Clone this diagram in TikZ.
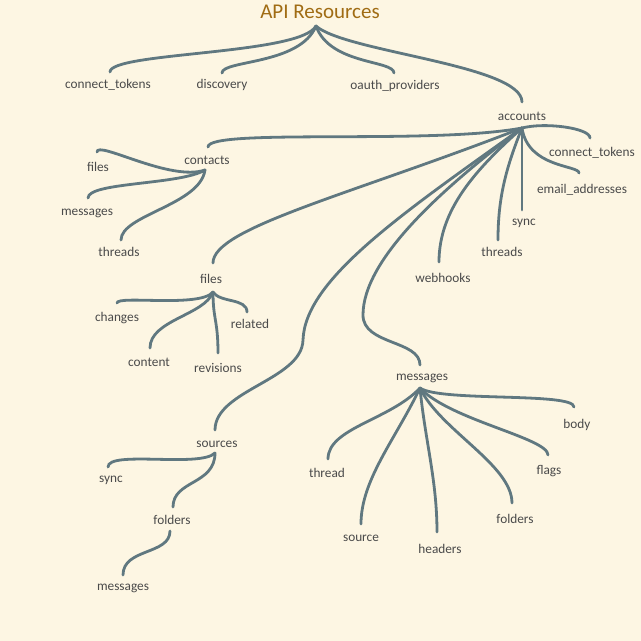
\documentclass[tikz,border=0pt]{standalone}
\usepackage{fontspec}
\setmainfont{Carlito}
\definecolor{bg}{HTML}{FDF6E3}
\definecolor{linkc}{HTML}{607880}
\definecolor{labelc}{HTML}{4A4A4A}
\definecolor{titlec}{HTML}{A06C14}
\tikzset{
  lbl/.style={font=\fontsize{13.3}{15}\selectfont, text=labelc, inner sep=0pt, text height=1.5ex, text depth=.25ex, yshift=-1.8pt},
  ttl/.style={font=\fontsize{21}{24}\selectfont, text=titlec, inner sep=0pt},
  link/.style={draw=linkc, line width=2.8pt, line cap=round}
}
\begin{document}
\begin{tikzpicture}[x=1pt,y=-1pt]
\fill[bg] (0,0) rectangle (641,641);
\useasboundingbox (0,0) rectangle (641,641);

% labels
\node[ttl] (root) at (320,12) {API Resources};
\node[lbl] (ct1) at (108,84) {connect\_tokens};
\node[lbl] (disc) at (222,84) {discovery};
\node[lbl] (oauth) at (395,85) {oauth\_providers};
\node[lbl] (acc) at (522,116) {accounts};
\node[lbl] (contacts) at (207,160) {contacts};
\node[lbl] (ct2) at (592,152) {connect\_tokens};
\node[lbl] (email) at (582,189) {email\_addresses};
\node[lbl] (sync1) at (524,221) {sync};
\node[lbl] (threads1) at (502,252) {threads};
\node[lbl] (webhooks) at (443,278) {webhooks};
\node[lbl] (cfiles) at (98,167) {files};
\node[lbl] (cmessages) at (87,211) {messages};
\node[lbl] (cthreads) at (119,252) {threads};
\node[lbl] (files) at (211,279) {files};
\node[lbl] (changes) at (117,317) {changes};
\node[lbl] (content) at (149,362) {content};
\node[lbl] (revisions) at (218,368) {revisions};
\node[lbl] (related) at (250,324) {related};
\node[lbl] (sources) at (217,443) {sources};
\node[lbl] (ssync) at (111,478) {sync};
\node[lbl] (sfolders) at (172,520) {folders};
\node[lbl] (fmessages) at (123,586) {messages};
\node[lbl] (messages) at (422,376) {messages};
\node[lbl] (thread) at (327,473) {thread};
\node[lbl] (source) at (361,537) {source};
\node[lbl] (headers) at (440,549) {headers};
\node[lbl] (mfolders) at (515,519) {folders};
\node[lbl] (flags) at (549,470) {flags};
\node[lbl] (body) at (577,424) {body};

% link anchor points
\coordinate (rootO) at (316,26);
\coordinate (ct1I) at (110,72);
\coordinate (discI) at (222,73);
\coordinate (oauthI) at (394,73);
\coordinate (accI) at (522,102);
\coordinate (accO) at (522,128);
\coordinate (contactsI) at (208,147);
\coordinate (contactsO) at (205,170);
\coordinate (filesI) at (213,263);
\coordinate (filesO) at (213,292);
\coordinate (sourcesI) at (215,430);
\coordinate (sourcesO) at (215,453);
\coordinate (sourcesV) at (303,340);
\coordinate (messagesI) at (420,365);
\coordinate (messagesO) at (420,388);
\coordinate (messagesV) at (363,315);
\coordinate (webhooksI) at (439,262);
\coordinate (threads1I) at (498,240);
\coordinate (sync1I) at (522,210);
\coordinate (emailI) at (579,173);
\coordinate (ct2I) at (590,138);
\coordinate (cfilesI) at (97,152);
\coordinate (cmessagesI) at (88,198);
\coordinate (cthreadsI) at (121,240);
\coordinate (changesI) at (117,303);
\coordinate (contentI) at (150,348);
\coordinate (revisionsI) at (218,353);
\coordinate (relatedI) at (247,312);
\coordinate (ssyncI) at (108,467);
\coordinate (sfoldersI) at (173,507);
\coordinate (sfoldersO) at (170,531);
\coordinate (fmessagesI) at (123,575);
\coordinate (threadI) at (328,459);
\coordinate (sourceI) at (361,524);
\coordinate (headersI) at (437,532);
\coordinate (mfoldersI) at (512,503);
\coordinate (flagsI) at (548,455);
\coordinate (bodyI) at (574,407);

% root links
\draw[link] (rootO) .. controls +(-16,29) and +(0,-20) .. (ct1I);
\draw[link] (rootO) .. controls +(-16,39) and +(0,-13) .. (discI);
\draw[link] (rootO) .. controls +(14,39) and +(0,-13) .. (oauthI);
\draw[link] (rootO) .. controls +(29,26) and +(0,-37) .. (accI);

% accounts links
\draw[link] (accO) .. controls +(-92,17) and +(0,-19) .. (contactsI);
\draw[link] (accO) .. controls +(-172,67) and +(0,-35) .. (filesI);
\draw[link] (accO) .. controls +(-122,87) and +(2,-60) .. (sourcesV)
                   .. controls +(-1,40) and +(0,-40) .. (sourcesI);
\draw[link] (accO) .. controls +(-82,62) and +(0,-55) .. (messagesV)
                   .. controls +(0,30) and +(0,-25) .. (messagesI);
\draw[link] (accO) .. controls +(-47,42) and +(0,-52) .. (webhooksI);
\draw[link] (accO) .. controls +(-17,42) and +(0,-40) .. (threads1I);
\draw[link] (accO) -- (sync1I);
\draw[link] (accO) .. controls +(6,40) and +(0,-8) .. (emailI);
\draw[link] (accO) .. controls +(23,-6) and +(0,-10) .. (ct2I);

% contacts links
\draw[link] (contactsO) .. controls +(-35,12) and +(0,-12) .. (cfilesI);
\draw[link] (contactsO) .. controls +(-25,15) and +(0,-16) .. (cmessagesI);
\draw[link] (contactsO) .. controls +(-5,35) and +(0,-25) .. (cthreadsI);

% files links
\draw[link] (filesO) .. controls +(-13,16) and +(0,-8) .. (changesI);
\draw[link] (filesO) .. controls +(-8,23) and +(0,-28) .. (contentI);
\draw[link] (filesO) .. controls +(0,28) and +(0,-33) .. (revisionsI);
\draw[link] (filesO) .. controls +(7,11) and +(0,-14) .. (relatedI);

% sources links
\draw[link] (sourcesO) .. controls +(-15,15) and +(0,-17) .. (ssyncI);
\draw[link] (sourcesO) .. controls +(0,32) and +(0,-27) .. (sfoldersI);
\draw[link] (sfoldersO) .. controls +(0,24) and +(0,-27) .. (fmessagesI);

% messages links
\draw[link] (messagesO) .. controls +(-30,32) and +(0,-31) .. (threadI);
\draw[link] (messagesO) .. controls +(-25,52) and +(0,-44) .. (sourceI);
\draw[link] (messagesO) .. controls +(5,52) and +(0,-52) .. (headersI);
\draw[link] (messagesO) .. controls +(20,42) and +(0,-38) .. (mfoldersI);
\draw[link] (messagesO) .. controls +(30,32) and +(0,-17) .. (flagsI);
\draw[link] (messagesO) .. controls +(20,14) and +(0,-15) .. (bodyI);
\end{tikzpicture}
\end{document}
